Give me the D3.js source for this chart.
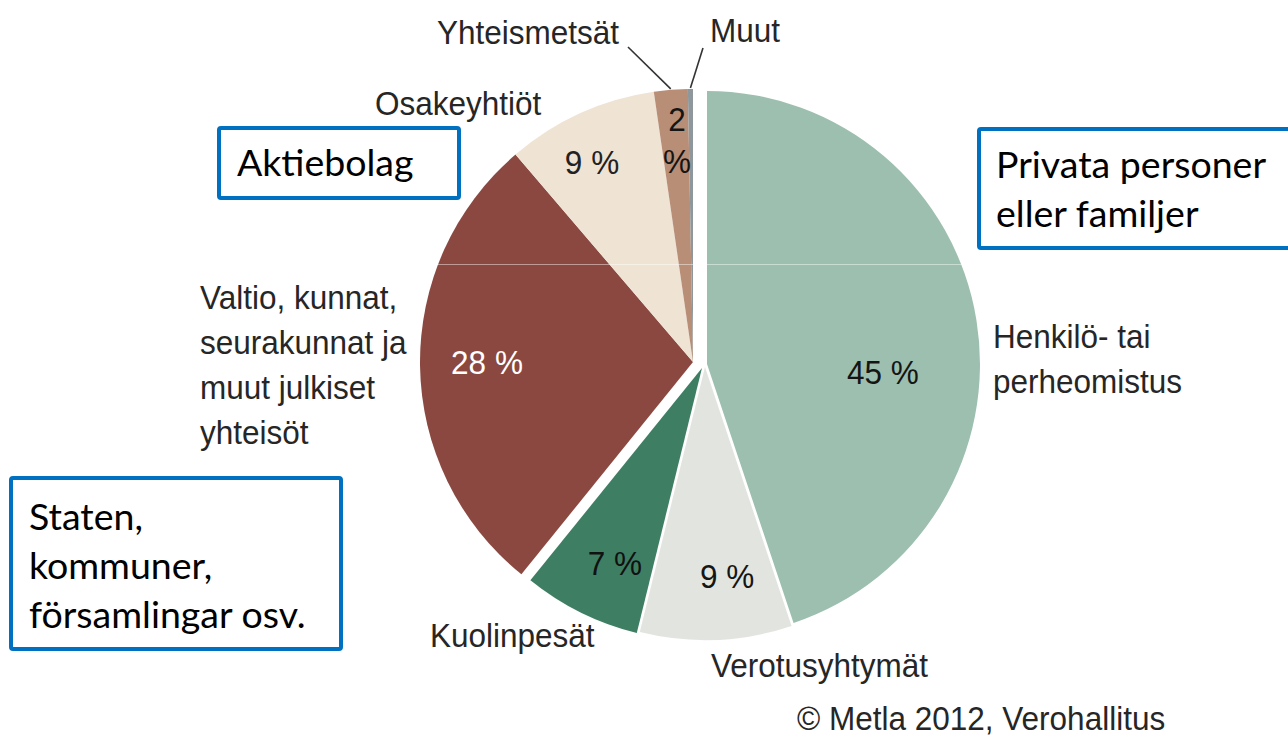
<!DOCTYPE html>
<html>
<head>
<meta charset="utf-8">
<script src="https://cdn.jsdelivr.net/npm/d3@7"></script>
<style>
  html, body { margin: 0; padding: 0; background: #fff; }
  #chart { width: 1288px; height: 738px; }
  .lbl { font-family: "Liberation Sans", Arial, sans-serif; }
  .box-text { font-family: Lato, "Open Sans", sans-serif; fill: #000; }
</style>
</head>
<body>
<div id="chart"></div>
<script>
// ownership categories, clockwise from 12 o'clock
const categories = ["Henkilö- tai perheomistus", "Verotusyhtymät", "Kuolinpesät",
    "Valtio, kunnat, seurakunnat ja muut julkiset yhteisöt", "Osakeyhtiöt", "Yhteismetsät", "Muut"]
const shares = [45, 9, 7, 28, 9, 2, 0.3]
const shareLabels = ["45 %", "9 %", "7 %", "28 %", "9 %", "2\n%", ""]
const colors = ["#9dbfaf", "#e2e5df", "#3e7f63", "#8a4840", "#efe3d4", "#b88e77", "#8e979b"]

// swedish annotation boxes
const boxTexts = [["Aktiebolag"], ["Privata personer", "eller familjer"], ["Staten,", "kommuner,", "församlingar osv."]]

const W = 1288, H = 738
const cx = 693, cy = 362, R = 273
const squeeze = 0.955   // the finnish labels are slightly condensed
const fs = 33

// small shifts for the pulled-out slices (layout only)
const shift = [[14, 2], [12, 5], [9, 6], [0, 0], [0, 0], [0, 0], [0, 0]]

const svg = d3.select("#chart").append("svg")
    .attr("width", W)
    .attr("height", H)

const data = categories.map((c, i) => ({name: c, value: shares[i], label: shareLabels[i], color: colors[i], shift: shift[i]}))

const pie = d3.pie()
    .sort(null)
    .value(d => d.value)

const arcs = pie(data)
const arc = d3.arc().innerRadius(0).outerRadius(R)

const g = svg.append("g").attr("transform", `translate(${cx},${cy})`)

g.selectAll("path.slice")
    .data(arcs)
    .enter()
    .append("path")
    .attr("class", "slice")
    .attr("d", arc)
    .attr("fill", d => d.data.color)
    .attr("transform", d => `translate(${d.data.shift[0]},${d.data.shift[1]})`)

// faint scan line crossing the picture
svg.append("line")
    .attr("x1", 405).attr("x2", 978)
    .attr("y1", 264.5).attr("y2", 264.5)
    .attr("stroke", "#fff")
    .attr("stroke-opacity", 0.45)
    .attr("stroke-width", 1)

function label(parent, x, y, lines, size, fill, lineGap, anchor) {
    const t = parent.append("text")
        .attr("class", "lbl")
        .attr("transform", `translate(${x},${y}) scale(${squeeze},1)`)
        .attr("font-size", size)
        .attr("text-anchor", anchor)
        .style("fill", fill)
    lines.forEach((ln, k) => {
        t.append("tspan")
            .attr("x", 0)
            .attr("y", k * lineGap)
            .attr("dy", "0.35em")
            .text(ln)
    })
    return t
}

// inner percentage labels, placed by angle (deg, clockwise from top) and radius
const inner = [
    {r: 176, a: 92.6, fill: "#151515"},
    {r: 211, a: 174, fill: "#151515"},
    {r: 214, a: 204, fill: "#111"},
    {r: 206, a: 270, fill: "#fff"},
    {r: 224, a: 333.2, fill: "#222"},
    {r: 222, a: 355.9, fill: "#151515"},
    {r: 0, a: 0, fill: "#111"}
]

arcs.forEach((d, i) => {
    if (!d.data.label) return
    const p = inner[i]
    const rad = p.a * Math.PI / 180
    const x = d.data.shift[0] + p.r * Math.sin(rad)
    const y = d.data.shift[1] - p.r * Math.cos(rad)
    const lines = d.data.label.split("\n")
    label(g, x, y - (lines.length - 1) * 21, lines, fs, p.fill, 42, "middle")
})

// outer category labels
const outer = [
    {lines: ["Henkilö- tai", "perheomistus"], x: 993, y: 336},
    {lines: ["Verotusyhtymät"], x: 711, y: 665},
    {lines: ["Kuolinpesät"], x: 430, y: 635},
    {lines: ["Valtio, kunnat,", "seurakunnat ja", "muut julkiset", "yhteisöt"], x: 200, y: 297},
    {lines: ["Osakeyhtiöt"], x: 375, y: 103},
    {lines: ["Yhteismetsät"], x: 437, y: 32},
    {lines: ["Muut"], x: 710, y: 30}
]

outer.forEach(o => label(svg, o.x, o.y, o.lines, fs, "#262626", 45, "start"))

// leader lines for the two thin slices
const leaders = [{i: 5, from: [628, 47]}, {i: 6, from: [703, 48]}]
leaders.forEach(l => {
    const d = arcs[l.i]
    const mid = (d.startAngle + d.endAngle) / 2
    const x2 = cx + d.data.shift[0] + (R + 1) * Math.sin(mid)
    const y2 = cy + d.data.shift[1] - (R + 1) * Math.cos(mid)
    svg.append("line")
        .attr("x1", l.from[0]).attr("y1", l.from[1])
        .attr("x2", x2).attr("y2", y2)
        .attr("stroke", "#333")
        .attr("stroke-width", 1.6)
})

label(svg, 797, 718, ["© Metla 2012, Verohallitus"], fs, "#262626", 0, "start")

// blue boxes with swedish translations
const boxes = [
    {x: 219, y: 128, w: 240, h: 70, tx: 237, ty: 163},
    {x: 979, y: 129, w: 320, h: 119, tx: 996, ty: 165},
    {x: 11, y: 478, w: 330, h: 171, tx: 29, ty: 517}
]

boxes.forEach((b, i) => {
    svg.append("rect")
        .attr("x", b.x).attr("y", b.y)
        .attr("width", b.w).attr("height", b.h)
        .attr("fill", "#fff")
        .attr("stroke", "#0070c0")
        .attr("stroke-width", 4)
        .attr("rx", 2)
    const t = svg.append("text")
        .attr("class", "box-text")
        .attr("font-size", 37.5)
    boxTexts[i].forEach((ln, k) => {
        t.append("tspan")
            .attr("x", b.tx)
            .attr("y", b.ty + k * 49)
            .attr("dy", "0.35em")
            .text(ln)
    })
})
</script>
</body>
</html>
